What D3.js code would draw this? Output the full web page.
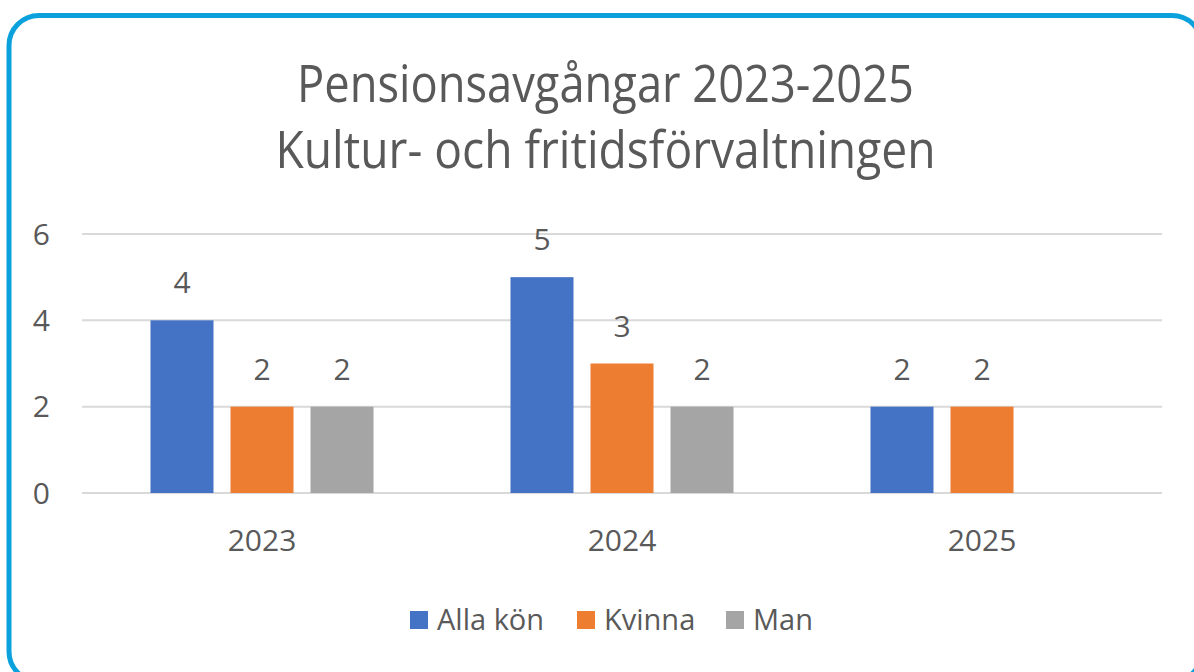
<!DOCTYPE html>
<html>
<head>
<meta charset="utf-8">
<script src="https://cdn.jsdelivr.net/npm/d3@7"></script>
<style>
  body { margin: 0; background: #fff; }
  text { font-family: "Open Sans", "Noto Sans", sans-serif; fill: #595959; }
</style>
</head>
<body>
<div id="chart"></div>
<script>
// data
var years = ["2023", "2024", "2025"];
var seriesNames = ["Alla kön", "Kvinna", "Man"];
var allaKon = [4, 5, 2];
var kvinna = [2, 3, 2];
var man = [2, 2, null];
var yTicks = [0, 2, 4, 6];
var titleLines = ["Pensionsavgångar 2023-2025", "Kultur- och fritidsförvaltningen"];
var colors = ["#4472C4", "#ED7D31", "#A5A5A5"];

var width = 1194, height = 672;
var margin = {top: 234, right: 32, bottom: 179, left: 82};

var svg = d3.select("#chart")
  .append("svg")
    .attr("width", width)
    .attr("height", height);

// rounded blue frame
svg.append("rect")
  .attr("x", 9).attr("y", 15.5)
  .attr("width", 1193).attr("height", 666)
  .attr("rx", 30).attr("ry", 30)
  .attr("fill", "none")
  .attr("stroke", "#0AA1DD")
  .attr("stroke-width", 5);

// title
var titleWidths = [617, 660];
svg.selectAll(".title")
  .data(titleLines)
  .enter()
  .append("text")
    .attr("class", "title")
    .attr("x", 605.5)
    .attr("y", function(d, i) { return 102 + i * 66; })
    .attr("text-anchor", "middle")
    .style("font-size", "51px")
    .attr("textLength", function(d, i) { return titleWidths[i]; })
    .attr("lengthAdjust", "spacingAndGlyphs")
    .text(function(d) { return d; });

// scales
var x = d3.scaleBand()
  .domain(years)
  .range([margin.left, width - margin.right]);

var xSub = d3.scaleBand()
  .domain(seriesNames)
  .range([0, x.bandwidth()])
  .paddingInner(0.2125)
  .paddingOuter(0.856);

var y = d3.scaleLinear()
  .domain([0, 6])
  .range([height - margin.bottom, margin.top]);

// gridlines
svg.append("g")
  .selectAll("line")
  .data(yTicks)
  .enter()
  .append("line")
    .attr("x1", margin.left)
    .attr("x2", width - margin.right)
    .attr("y1", function(d) { return y(d); })
    .attr("y2", function(d) { return y(d); })
    .attr("stroke", "#D9D9D9")
    .attr("stroke-width", 2);

// y axis labels
svg.append("g")
  .selectAll("text")
  .data(yTicks)
  .enter()
  .append("text")
    .attr("x", 50)
    .attr("y", function(d) { return y(d); })
    .attr("dy", "0.36em")
    .attr("text-anchor", "end")
    .style("font-size", "30px")
    .text(function(d) { return d; });

// x axis labels
svg.append("g")
  .selectAll("text")
  .data(years)
  .enter()
  .append("text")
    .attr("x", function(d) { return x(d) + x.bandwidth() / 2; })
    .attr("y", 551)
    .attr("text-anchor", "middle")
    .style("font-size", "30px")
    .text(function(d) { return d; });

// build table for bars
var values = [allaKon, kvinna, man];
var barData = [];
years.forEach(function(yr, i) {
  seriesNames.forEach(function(s, j) {
    if (values[j][i] != null) {
      barData.push({year: yr, series: s, value: values[j][i], color: colors[j]});
    }
  });
});

// bars
svg.append("g")
  .selectAll("rect")
  .data(barData)
  .enter()
  .append("rect")
    .attr("x", function(d) { return x(d.year) + xSub(d.series); })
    .attr("y", function(d) { return y(d.value); })
    .attr("width", xSub.bandwidth())
    .attr("height", function(d) { return y(0) - y(d.value); })
    .attr("fill", function(d) { return d.color; });

// value labels
svg.append("g")
  .selectAll("text")
  .data(barData)
  .enter()
  .append("text")
    .attr("x", function(d) { return x(d.year) + xSub(d.series) + xSub.bandwidth() / 2; })
    .attr("y", function(d) { return y(d.value) - 27; })
    .attr("text-anchor", "middle")
    .style("font-size", "30px")
    .text(function(d) { return d.value; });

// legend
var legendX = [410, 577, 726];
var legend = svg.append("g")
  .selectAll("g")
  .data(seriesNames)
  .enter()
  .append("g")
    .attr("transform", function(d, i) { return "translate(" + legendX[i] + ",611)"; });

legend.append("rect")
  .attr("width", 18)
  .attr("height", 18)
  .attr("fill", function(d, i) { return colors[i]; });

legend.append("text")
  .attr("x", 27)
  .attr("y", 19)
  .style("font-size", "29px")
  .text(function(d) { return d; });
</script>
</body>
</html>
